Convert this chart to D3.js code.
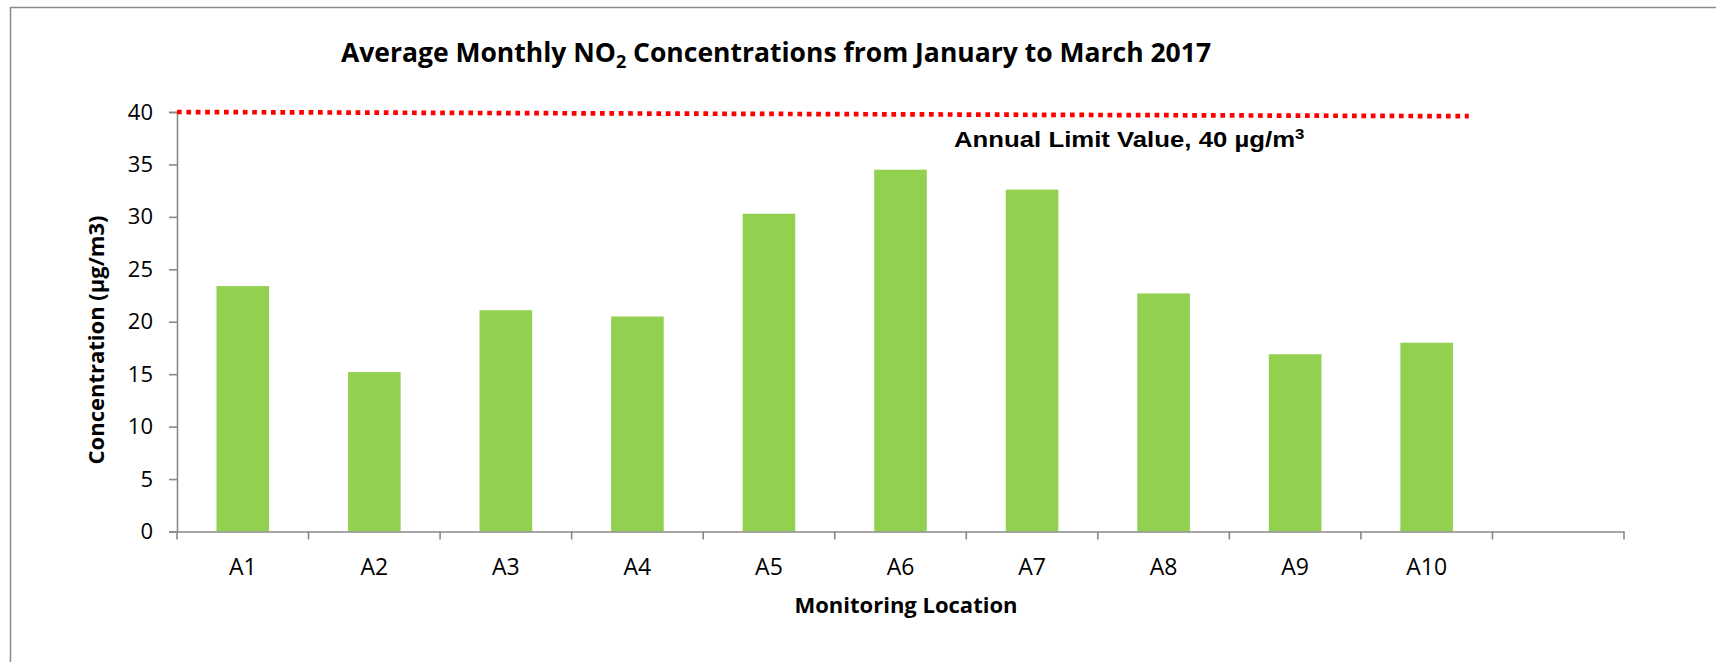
<!DOCTYPE html>
<html>
<head>
<meta charset="utf-8">
<script src="https://cdn.jsdelivr.net/npm/d3@7"></script>
<style>
  body { margin: 0; background: #fff; }
  svg { display: block; }
  .tick text { fill: #000; }
</style>
</head>
<body>
<script>
// monitoring locations and their Jan-Mar 2017 average NO2 (ug/m3)
const categories = ["A1", "A2", "A3", "A4", "A5", "A6", "A7", "A8", "A9", "A10"];
const values = [23.4, 15.2, 21.1, 20.5, 30.3, 34.5, 32.6, 22.7, 16.9, 18.0];
const yTicks = [0, 5, 10, 15, 20, 25, 30, 35, 40];
// the limit line is drawn by hand in the original, slightly off level
const limitLine = [{ pos: 0, value: 40 }, { pos: 9.82, value: 39.6 }];

const width = 1716, height = 662;
const margin = { top: 112, right: 92, bottom: 130.5, left: 177 };
const innerW = width - margin.left - margin.right,
      innerH = height - margin.top - margin.bottom;

const svg = d3.select("body").append("svg")
    .attr("width", width)
    .attr("height", height);

// chart border (runs off the picture on the right and bottom)
svg.append("rect")
    .attr("x", 10.5).attr("y", 7.5)
    .attr("width", 1760).attr("height", 700)
    .attr("fill", "none")
    .attr("stroke", "#8a8a8a")
    .attr("stroke-width", 1.5);

const g = svg.append("g")
    .attr("transform", "translate(" + margin.left + "," + margin.top + ")");

// one empty slot after A10, as in the original sheet
const xDomain = categories.concat([""]);
const x = d3.scaleBand()
    .domain(xDomain)
    .range([0, innerW])
    .paddingInner(0.6)
    .paddingOuter(0.3);
const xPos = d3.scaleLinear().domain([0, xDomain.length]).range([0, innerW]);

const y = d3.scaleLinear()
    .domain([0, 40])
    .range([innerH, 0]);

// bars
g.selectAll(".bar")
    .data(values)
    .enter().append("rect")
    .attr("class", "bar")
    .attr("x", (d, i) => x(categories[i]))
    .attr("y", d => y(d))
    .attr("width", x.bandwidth())
    .attr("height", d => innerH - y(d))
    .attr("fill", "#92d050");

// y axis
const yAxis = g.append("g")
    .call(d3.axisLeft(y).tickValues(yTicks).tickSize(8).tickPadding(16));
yAxis.selectAll("path, line").attr("stroke", "#898989").attr("stroke-width", 1.6);
yAxis.selectAll("text")
    .style("font-family", "'Open Sans', sans-serif")
    .style("font-size", "22px");

// x axis: labels at centres, tick marks between categories
const xAxis = g.append("g")
    .attr("transform", "translate(0," + innerH + ")")
    .call(d3.axisBottom(x).tickSize(0).tickPadding(27).tickSizeOuter(0));
xAxis.select(".domain").attr("stroke", "#898989").attr("stroke-width", 1.6);
xAxis.selectAll("text")
    .style("font-family", "'Open Sans', sans-serif")
    .style("font-size", "23px");

xAxis.selectAll(".sep")
    .data(d3.range(xDomain.length + 1))
    .enter().append("line")
    .attr("class", "sep")
    .attr("x1", d => xPos(d)).attr("x2", d => xPos(d))
    .attr("y1", 0).attr("y2", 8)
    .attr("stroke", "#898989")
    .attr("stroke-width", 1.6);

// annual limit line
g.append("path")
    .datum(limitLine)
    .attr("fill", "none")
    .attr("stroke", "#ff0000")
    .attr("stroke-width", 4.7)
    .attr("stroke-dasharray", "4.7,4.7")
    .attr("d", d3.line().x(d => xPos(d.pos)).y(d => y(d.value)));

const note = g.append("text")
    .attr("transform", "translate(777,34.7) scale(1.12,1)")
    .style("font-family", "'Liberation Sans', Arial, sans-serif")
    .style("font-weight", "bold")
    .style("font-size", "23px");
note.append("tspan").text("Annual Limit Value, 40 µg/m");
note.append("tspan").attr("dy", -8).style("font-size", "15px").text("3");

// titles
const title = svg.append("text")
    .attr("x", 776)
    .attr("y", 61.7)
    .attr("text-anchor", "middle")
    .style("font-family", "'Open Sans', sans-serif")
    .style("font-weight", "bold")
    .style("font-size", "26.5px");
title.append("tspan").text("Average Monthly NO");
title.append("tspan").attr("dy", 6).style("font-size", "18px").text("2");
title.append("tspan").attr("dy", -6).text(" Concentrations from January to March 2017");

svg.append("text")
    .attr("x", 906)
    .attr("y", 613)
    .attr("text-anchor", "middle")
    .style("font-family", "'Open Sans', sans-serif")
    .style("font-weight", "bold")
    .style("font-size", "22px")
    .text("Monitoring Location");

svg.append("text")
    .attr("transform", "translate(104,340) rotate(-90)")
    .attr("text-anchor", "middle")
    .style("font-family", "'Open Sans', sans-serif")
    .style("font-weight", "bold")
    .style("font-size", "22px")
    .text("Concentration (µg/m3)");
</script>
</body>
</html>
